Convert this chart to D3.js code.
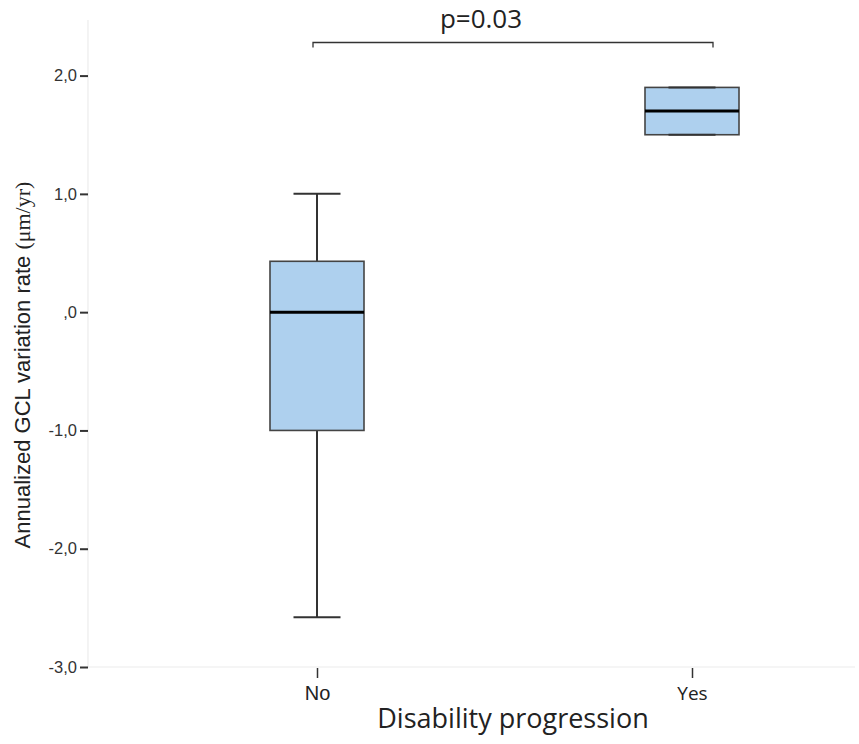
<!DOCTYPE html>
<html>
<head>
<meta charset="utf-8">
<script src="https://cdn.jsdelivr.net/npm/d3@7"></script>
<style>
  html, body { margin: 0; padding: 0; background: #fff; }
  svg { display: block; }
</style>
</head>
<body>
<svg id="chart" width="859" height="744"></svg>
<script>
// Groups and five-number summaries of the annualized GCL variation rate
const categories = ["No", "Yes"];
const whiskerLow  = [-2.58, 1.5];
const quartile1   = [-1.0, 1.5];
const medians     = [0.0, 1.7];
const quartile3   = [0.43, 1.9];
const whiskerHigh = [1.0, 1.9];
const yTicks = [-3, -2, -1, 0, 1, 2];
const yTickLabels = ["-3,0", "-2,0", "-1,0", ",0", "1,0", "2,0"];
const pLabel = "p=0.03";

const svg = d3.select("#chart");
const plotLeft = 88, plotRight = 855, plotTop = 20, plotBottom = 667;

const y = d3.scaleLinear().domain([-3, 2.47]).range([plotBottom, plotTop]);
const x = d3.scalePoint().domain(categories).range([317, 692]);

// Light frame lines
svg.append("line").attr("x1", plotLeft).attr("x2", plotLeft).attr("y1", plotTop).attr("y2", plotBottom)
  .attr("stroke", "#ececec").attr("stroke-width", 1.2);
svg.append("line").attr("x1", plotLeft).attr("x2", plotRight).attr("y1", plotBottom).attr("y2", plotBottom)
  .attr("stroke", "#ececec").attr("stroke-width", 1.2);

// Y axis
const yAxis = d3.axisLeft(y).tickValues(yTicks)
  .tickFormat((d, i) => yTickLabels[i]).tickSize(8).tickPadding(3);
const gy = svg.append("g").attr("transform", `translate(${plotLeft},0)`).call(yAxis);
gy.select(".domain").remove();
gy.selectAll(".tick line").attr("stroke", "#333").attr("stroke-width", 2);
gy.selectAll(".tick text").attr("font-family", "Liberation Sans, Arial, sans-serif")
  .attr("font-size", 16.5).attr("fill", "#333");

// X axis
const xAxis = d3.axisBottom(x).tickSize(10).tickPadding(6);
const gx = svg.append("g").attr("transform", `translate(0,${plotBottom + 1})`).call(xAxis);
gx.select(".domain").remove();
gx.selectAll(".tick line").attr("stroke", "#333").attr("stroke-width", 1.5);
gx.selectAll(".tick text")
  .attr("y", 32).attr("dy", 0)
  .attr("font-family", (d) => d === "No" ? "Liberation Sans, Arial, sans-serif" : "Open Sans, sans-serif")
  .attr("font-size", (d) => d === "No" ? 20 : 19).attr("fill", "#222");

// Box plots
const boxW = 94, capW = 47;
const data = categories.map((c, i) => ({
  c, lo: whiskerLow[i], q1: quartile1[i], med: medians[i], q3: quartile3[i], hi: whiskerHigh[i]
}));

const g = svg.append("g");
data.forEach(d => {
  const cx = x(d.c);
  // whiskers
  g.append("line").attr("x1", cx).attr("x2", cx).attr("y1", y(d.hi)).attr("y2", y(d.q3))
    .attr("stroke", "#333").attr("stroke-width", 2);
  g.append("line").attr("x1", cx).attr("x2", cx).attr("y1", y(d.q1)).attr("y2", y(d.lo))
    .attr("stroke", "#333").attr("stroke-width", 2);
  // box
  g.append("rect").attr("x", cx - boxW / 2).attr("width", boxW)
    .attr("y", y(d.q3)).attr("height", y(d.q1) - y(d.q3))
    .attr("fill", "#aed0ee").attr("stroke", "#444").attr("stroke-width", 1.6);
  // caps
  [d.hi, d.lo].forEach(v => {
    g.append("line").attr("x1", cx - capW / 2).attr("x2", cx + capW / 2)
      .attr("y1", y(v)).attr("y2", y(v)).attr("stroke", "#333").attr("stroke-width", 2);
  });
  // median
  g.append("line").attr("x1", cx - boxW / 2).attr("x2", cx + boxW / 2)
    .attr("y1", y(d.med)).attr("y2", y(d.med)).attr("stroke", "#000").attr("stroke-width", 3);
});

// Significance bracket
const bx1 = x("No") - 4, bx2 = x("Yes") + 21, by = 42.5;
svg.append("path")
  .attr("d", `M${bx1},${by + 5}V${by}H${bx2}V${by + 5}`)
  .attr("fill", "none").attr("stroke", "#333").attr("stroke-width", 1.3);
svg.append("text").attr("x", 481).attr("y", 28)
  .attr("text-anchor", "middle")
  .attr("font-family", "Open Sans, sans-serif").attr("font-size", 26).attr("fill", "#222")
  .text(pLabel);

// Axis titles
const yTitle = svg.append("text")
  .attr("transform", "translate(30,365) rotate(-90)")
  .attr("text-anchor", "middle")
  .attr("font-family", "Liberation Sans, Arial, sans-serif").attr("font-size", 22).attr("fill", "#222");
yTitle.append("tspan").text("Annualized GCL variation rate ");
yTitle.append("tspan").attr("font-family", "Liberation Serif, Times New Roman, serif").text("(μm/yr)");

svg.append("text").attr("x", 513).attr("y", 728).attr("text-anchor", "middle")
  .attr("font-family", "Open Sans, sans-serif").attr("font-size", 27).attr("fill", "#222")
  .text("Disability progression");
</script>
</body>
</html>
